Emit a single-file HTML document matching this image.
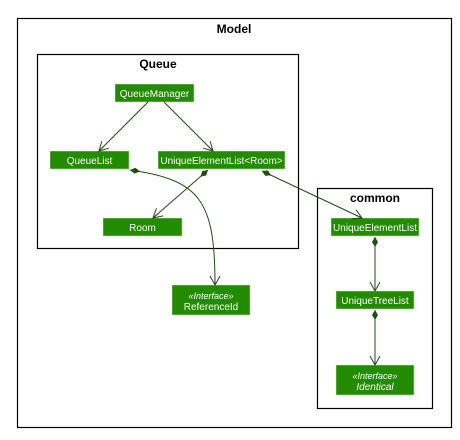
<!DOCTYPE html>
<html><head><style>
body{margin:0;background:#fff;width:460px;height:435px;overflow:hidden}
</style></head><body>
<svg width="460" height="435" xmlns="http://www.w3.org/2000/svg" font-family="Liberation Sans, sans-serif">
<defs>
<marker id="a" markerWidth="12" markerHeight="12" refX="10" refY="6" orient="auto" markerUnits="userSpaceOnUse">
<path d="M1,1 L10,6 L1,11 M10,6 L4,6" fill="none" stroke="#1f4d14" stroke-width="1"/></marker>
<marker id="d" markerWidth="14" markerHeight="10" refX="1" refY="5" orient="auto" markerUnits="userSpaceOnUse">
<path d="M1,5 L6,2 L11,5 L6,8 Z" fill="#1f4d14"/></marker>
</defs>
<rect x="17.5" y="18.5" width="434" height="409" fill="none" stroke="#000" stroke-width="1.2"/>
<text x="234" y="33" font-size="12" font-weight="bold" text-anchor="middle">Model</text>
<rect x="37.5" y="54.5" width="261" height="194" fill="none" stroke="#000" stroke-width="1.2"/>
<text x="158" y="68" font-size="12" font-weight="bold" text-anchor="middle">Queue</text>
<rect x="317.5" y="188.5" width="115" height="220" fill="none" stroke="#000" stroke-width="1.2"/>
<text x="375" y="202" font-size="12" font-weight="bold" text-anchor="middle">common</text>
<g fill="#228b00" stroke="#d6e8cc" stroke-width="0.5">
<rect x="115" y="84" width="79" height="18"/>
<rect x="50" y="151" width="79" height="18"/>
<rect x="158" y="151" width="127" height="18"/>
<rect x="103" y="218" width="79" height="18"/>
<rect x="331" y="218" width="88" height="18"/>
<rect x="336" y="291" width="78" height="18"/>
<rect x="336" y="365" width="78" height="30"/>
<rect x="172" y="285" width="78" height="30"/>
</g>
<g fill="#fff" font-size="10" text-anchor="middle">
<text x="154.5" y="97">QueueManager</text>
<text x="89.5" y="164">QueueList</text>
<text x="221.5" y="164">UniqueElementList&lt;Room&gt;</text>
<text x="142.5" y="231">Room</text>
<text x="375" y="231">UniqueElementList</text>
<text x="375" y="304">UniqueTreeList</text>
<text x="375" y="379" font-style="italic" font-size="9">«Interface»</text>
<text x="375" y="390" font-style="italic">Identical</text>
<text x="211" y="299" font-style="italic" font-size="9">«Interface»</text>
<text x="211" y="310">ReferenceId</text>
</g>
<g stroke="#1f4d14" stroke-width="1" fill="none">
<path d="M148,102 L99,151" marker-end="url(#a)"/>
<path d="M164,102 L213,151" marker-end="url(#a)"/>
<path d="M208,170 L153,218" marker-start="url(#d)" marker-end="url(#a)"/>
<path d="M130,170 C200,180 215,200 215,285" marker-start="url(#d)" marker-end="url(#a)"/>
<path d="M262,171 L362,218" marker-start="url(#d)" marker-end="url(#a)"/>
<path d="M375,237 L375,291" marker-start="url(#d)" marker-end="url(#a)"/>
<path d="M375,310 L375,365" marker-start="url(#d)" marker-end="url(#a)"/>
</g>
</svg>
</body></html>
